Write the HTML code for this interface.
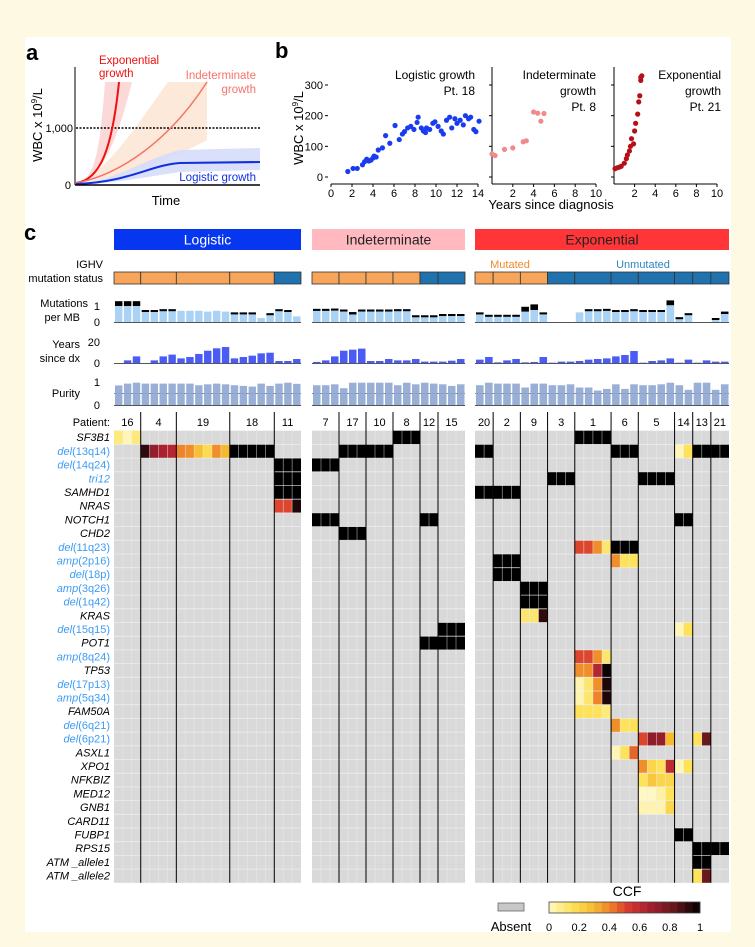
<!DOCTYPE html>
<html><head><meta charset="utf-8">
<style>
html,body{margin:0;padding:0;background:#fdf9e3;}
svg{display:block;font-family:"Liberation Sans",sans-serif;}
</style></head>
<body>
<svg id="fig" width="755" height="947" viewBox="0 0 755 947" xmlns="http://www.w3.org/2000/svg">
<rect x="25" y="37" width="706" height="895" fill="#ffffff"/>
<g>
<text x="26" y="60" font-size="22" font-weight="bold">a</text>
<path d="M76,184 C95,180 100,150 105,82 L132,82 C115,150 100,178 76,184Z" fill="#fbd0d0" opacity="0.8"/>
<path d="M76,184 C110,170 140,120 168,82 L207,82 L207,140 C170,160 120,178 76,184Z" fill="#fbe3d0" opacity="0.8"/>
<path d="M76,184 C120,180 140,160 180,150 L260,148 L260,170 L180,172 C140,178 110,184 76,184Z" fill="#d6dcfa" opacity="0.9"/>
<line x1="76" y1="128" x2="260" y2="128" stroke="#000" stroke-width="1.5" stroke-dasharray="2,1.5"/>
<path d="M76,183 C100,180 112,150 119,82" fill="none" stroke="#f01010" stroke-width="2"/>
<path d="M76,183 C120,175 170,140 207,82" fill="none" stroke="#f5736a" stroke-width="1.5"/>
<path d="M76,184 C130,182 150,165 180,163 L260,162" fill="none" stroke="#1030e0" stroke-width="2"/>
<line x1="75" y1="67" x2="75" y2="185" stroke="#000"/>
<line x1="75" y1="185" x2="260" y2="185" stroke="#000" stroke-width="1.5"/>
<text x="71" y="189" font-size="11" text-anchor="end">0</text>
<text x="73" y="132" font-size="11" text-anchor="end">1,000</text>
<text x="166" y="205" font-size="13" text-anchor="middle">Time</text>
<text transform="translate(42,125) rotate(-90)" font-size="13" text-anchor="middle">WBC x 10<tspan font-size="8" dy="-5">9</tspan><tspan dy="5">/L</tspan></text>
<text x="99" y="64" font-size="11.5" fill="#f01010">Exponential</text>
<text x="99" y="77" font-size="11.5" fill="#f01010">growth</text>
<text x="256" y="79" font-size="11.5" fill="#f5736a" text-anchor="end">Indeterminate</text>
<text x="256" y="93" font-size="11.5" fill="#f5736a" text-anchor="end">growth</text>
<text x="256" y="181" font-size="11.5" fill="#1030e0" text-anchor="end">Logistic growth</text>
</g>
<g id="pb">
<text x="275" y="58" font-size="22" font-weight="bold">b</text>
<text transform="translate(303,128) rotate(-90)" font-size="13" text-anchor="middle">WBC x 10<tspan font-size="8" dy="-5">9</tspan><tspan dy="5">/L</tspan></text>
<text x="551" y="209" font-size="13" text-anchor="middle">Years since diagnosis</text>
<text x="475" y="79" font-size="12" text-anchor="end">Logistic growth</text>
<text x="475" y="95" font-size="12" text-anchor="end">Pt. 18</text>
<text x="596" y="79" font-size="12" text-anchor="end">Indeterminate</text>
<text x="596" y="95" font-size="12" text-anchor="end">growth</text>
<text x="596" y="111" font-size="12" text-anchor="end">Pt. 8</text>
<text x="721" y="79" font-size="12" text-anchor="end">Exponential</text>
<text x="721" y="95" font-size="12" text-anchor="end">growth</text>
<text x="721" y="111" font-size="12" text-anchor="end">Pt. 21</text>
</g>
<g id="pc">
<text x="24" y="240" font-size="22" font-weight="bold">c</text>
<text x="103" y="268" font-size="11" text-anchor="end">IGHV</text>
<text x="103" y="282" font-size="11" text-anchor="end">mutation status</text>
<text x="88" y="307" font-size="11" text-anchor="end">Mutations</text>
<text x="80" y="321" font-size="11" text-anchor="end">per MB</text>
<text x="80" y="348" font-size="11" text-anchor="end">Years</text>
<text x="80" y="362" font-size="11" text-anchor="end">since dx</text>
<text x="80" y="397" font-size="11" text-anchor="end">Purity</text>
<text x="110" y="426" font-size="11" text-anchor="end">Patient:</text>
<text x="510" y="268" font-size="11" fill="#f08a30" text-anchor="middle">Mutated</text>
<text x="643" y="268" font-size="11" fill="#2e86c1" text-anchor="middle">Unmutated</text>
<text x="627" y="896" font-size="14" text-anchor="middle">CCF</text>
<rect x="498" y="903" width="26" height="8" fill="#c8c8c8" stroke="#666" stroke-width="0.8"/>
<text x="511" y="931" font-size="13" text-anchor="middle">Absent</text>
</g>
</svg>
<script>
var logYears = [1.6,2.1,2.5,3.0,3.2,3.4,3.6,3.8,4.0,4.1,4.3,4.5,4.9,5.2,5.6,6.1,6.5,6.8,7.0,7.3,7.6,7.9,8.2,8.3,8.6,8.8,9.0,9.1,9.4,9.7,9.9,10.2,10.5,10.7,11.0,11.3,11.5,11.8,12.0,12.3,12.6,12.8,13.1,13.3,13.6,13.8,14.1];
var logWBC = [18,28,28,40,50,58,52,55,62,68,65,88,95,135,110,168,122,140,148,160,165,155,178,195,160,150,145,160,155,175,180,165,150,140,185,195,160,190,175,185,170,200,190,195,155,148,182];
var indYears = [0.0,0.3,1.2,2.0,3.0,3.3,4.0,4.4,4.7,5.0];
var indWBC = [75,70,90,95,115,118,212,208,182,207];
var expYears = [0.1,0.3,0.5,0.7,1.0,1.2,1.3,1.5,1.6,1.7,1.9,2.0,2.1,2.3,2.4,2.5,2.6,2.6,2.7];
var expWBC = [27,30,32,35,45,60,72,85,100,125,108,150,175,205,245,265,315,325,330];
var bTicksY = [0,100,200,300];
var patients = [["16","4","19","18","11"],["7","17","10","8","12","15"],["20","2","9","3","1","6","5","14","13","21"]];
var patientCells = [[3,4,6,5,3],[3,3,3,3,2,3],[2,3,3,3,4,3,4,2,2,2]];
var groupNames = ["Logistic","Indeterminate","Exponential"];
var ighvMutated = [[1,1,1,1,0],[1,1,1,1,0,0],[1,1,1,0,0,0,0,0,0,0]];
var mutTotal = [1.3,1.3,1.3,.75,.75,.8,.8,.7,.7,.7,.65,.7,.65,.6,.6,.6,.25,.55,.8,.75,.35,
 .82,.82,.84,.78,.62,.78,.78,.78,.78,.8,.8,.42,.42,.42,.5,.5,.5,
 .6,.45,.45,.45,.45,.95,1.1,.6,0,0,0,.6,.8,.8,.82,.75,.75,.8,.75,.75,.75,1.35,.3,.55,0,0,.25,.65];
var mutBlack = [.3,.3,.3,.1,.1,.1,.1,0,0,0,0,0,0,.1,.1,.1,0,.1,.12,.1,0,
 .1,.1,.08,.12,.15,.1,.1,.1,.1,.05,.05,.08,.08,.08,.08,.08,.08,
 .12,.08,.08,.08,.08,.3,.35,.12,0,0,0,0,.08,.08,.1,.12,.12,.1,.08,.08,.08,.3,.05,.1,0,0,.08,.15];
var yearsDx = [0,2.5,6.3,0,2.5,6.3,8,4.4,5.7,8.6,11.7,14,15.2,4.4,5.7,7,9.2,9.8,1.9,1.9,3.8,
 1,2.5,6.3,11.7,12.7,13.7,1.9,1.9,3.8,2.5,2.5,3.8,1.3,1.3,1.3,2.2,3.8,
 3.2,5.7,.6,2.5,3.8,.6,1,5.7,.3,1.3,1.3,1.9,3.2,3.8,4.4,6.3,7.6,11.4,.3,1.9,2.5,4.4,.3,3.2,.3,2.5,1.3,1.3];
var purity = [.85,.93,.97,.93,.93,.93,.93,.93,.93,.86,.9,.93,.9,.86,.83,.8,.93,.83,.93,.97,.92,
 .86,.86,.9,.73,.97,.97,.97,.97,.97,.86,.97,.9,.97,.93,.9,.83,.9,
 .86,.97,.93,.93,.93,.76,.93,.93,.86,.86,.9,.76,.76,.63,.7,.9,.7,.9,.86,.86,.9,.97,.86,.66,.97,.97,.66,.9];
var genes = ["SF3B1","del(13q14)","del(14q24)","tri12","SAMHD1","NRAS","NOTCH1","CHD2","del(11q23)","amp(2p16)","del(18p)","amp(3q26)","del(1q42)","KRAS","del(15q15)","POT1","amp(8q24)","TP53","del(17p13)","amp(5q34)","FAM50A","del(6q21)","del(6p21)","ASXL1","XPO1","NFKBIZ","MED12","GNB1","CARD11","FUBP1","RPS15","ATM _allele1","ATM _allele2"];
var events = [
 [0,0,[.1,.02,.1]],[0,30,[1,1,1]],[0,49,[1,1,1,1]],
 [1,3,[.92,.7,.65,.62]],[1,7,[.4,.38,.28,.18,.38,.3]],[1,13,[1,1,1,1,1]],[1,24,[1,1,1,1,1,1]],[1,38,[1,1]],[1,53,[1,1,1]],[1,60,[.02,.15]],[1,62,[1,1,1,1]],
 [2,18,[1,1,1]],[2,21,[1,1,1]],
 [3,18,[1,1,1]],[3,46,[1,1,1]],[3,56,[1,1,1,1]],
 [4,18,[1,1,1]],[4,38,[1,1,1,1,1]],
 [5,18,[.5,.5,.95]],
 [6,21,[1,1,1]],[6,33,[1,1]],[6,60,[1,1]],
 [7,24,[1,1,1]],
 [8,49,[.5,.5,.38,.12]],[8,53,[1,1,1]],
 [9,40,[1,1,1]],[9,53,[.38,.15,.15]],
 [10,40,[1,1,1]],
 [11,43,[1,1,1]],[12,43,[1,1,1]],
 [13,43,[.12,.12,.92]],
 [14,35,[1,1,1]],[14,60,[.02,.15]],
 [15,33,[1,1,1,1,1]],
 [16,49,[.5,.5,.38,.12]],
 [17,49,[.38,.38,.62,.98]],
 [18,49,[.03,.12,.38,.95]],
 [19,49,[.03,.12,.4,.95]],
 [20,49,[.15,.15,.15,.1]],
 [21,53,[.38,.15,.15]],
 [22,56,[.5,.72,.7,.3]],[22,62,[.15,.82]],
 [23,53,[.02,.15,.45]],
 [24,56,[.38,.2,.15,.6]],[24,60,[.02,.15]],
 [25,56,[.15,.25,.2,.2]],
 [26,56,[0,0,.05,.15]],
 [27,56,[.03,.03,.03,.2]],
 [29,60,[1,1]],
 [30,62,[1,1,1,1]],
 [31,62,[1,1]],
 [32,62,[.15,.82]]
];
var ccfTicks = [0,0.2,0.4,0.6,0.8,1];

var NS="http://www.w3.org/2000/svg";
function mk(tag, attrs, parent){var e=document.createElementNS(NS,tag);for(var k in attrs)e.setAttribute(k,attrs[k]);parent.appendChild(e);return e;}
var pb=document.getElementById('pb'), pc=document.getElementById('pc');

var bOrigins=[331,492,614], bPx=[10.5,10.4,10.3], bMax=[14,10,10];
function bx(s,yr){return bOrigins[s]+yr*bPx[s];}
function by(v){return 177-v*(92/300);}
var bSeries=[[logYears,logWBC,"#1a3cf0"],[indYears,indWBC,"#f28a8a"],[expYears,expWBC,"#b51018"]];
for(var s=0;s<3;s++){
  var ax=mk('line',{x1:bx(s,0),y1:184,x2:bx(s,bMax[s]),y2:184,stroke:'#000'},pb);
  
  
  var ay=mk('line',{x1:bx(s,0)-(s==0?3:0),y1:(s==0?85:67),x2:bx(s,0)-(s==0?3:0),y2:(s==0?177:184),stroke:(s==0?'none':'#000')},pb);
  
  
  for(var t=(s==0?0:2);t<=bMax[s];t+=2){
    var tl=mk('text',{x:bx(s,t),y:197,'font-size':11,'text-anchor':'middle'},pb);tl.textContent=t;
    
    
    var tk=mk('line',{x1:bx(s,t),y1:184,x2:bx(s,t),y2:187,stroke:'#000'},pb);
    
    
  }
  for(var i=0;i<bTicksY.length;i++){
    var yt=mk('line',{x1:bx(s,0)-(s==0?6:3),y1:by(bTicksY[i]),x2:bx(s,0)-(s==0?3:0),y2:by(bTicksY[i]),stroke:'#000'},pb);
    
    
    if(s==0){var yl=mk('text',{x:bx(0,0)-8,y:by(bTicksY[i])+4,'font-size':11,'text-anchor':'end'},pb);yl.textContent=bTicksY[i];
      
      }
  }
  var xs=bSeries[s][0], vs=bSeries[s][1];
  for(var j=0;j<xs.length;j++){
    var c=mk('circle',{cx:bx(s,xs[j]),cy:by(vs[j]),r:2.6,fill:bSeries[s][2]},pb);
    
    
  }
}

var blockX=[[114,301],[312,465],[475,729]];
var colX=[], colW=[], colBlock=[];
for(var b=0;b<3;b++){
  var n=patientCells[b].reduce(function(a,c){return a+c;},0);
  var w=(blockX[b][1]-blockX[b][0])/n;
  for(var i=0;i<n;i++){colX.push(blockX[b][0]+i*w);colW.push(w);colBlock.push(b);}
}
var gColors=["#0636f0","#ffb9bf","#ff3538"], gText=["#ffffff","#222","#222"];
var rowTop=430.7, rowH=13.7;
function cy(r){return rowTop+r*rowH;}
var stops=[[0,[255,248,196]],[0.15,[253,226,90]],[0.3,[246,186,48]],[0.42,[236,120,40]],[0.52,[216,58,48]],[0.66,[165,32,48]],[0.82,[105,24,30]],[1,[0,0,0]]];
function ccfColor(v){
  for(var i=1;i<stops.length;i++){if(v<=stops[i][0]){var a=stops[i-1],b=stops[i],t=(v-a[0])/(b[0]-a[0]);
    return 'rgb('+a[1].map(function(x,k){return Math.round(x+(b[1][k]-x)*t);}).join(',')+')';}}
  return '#000';
}
var col=0;
for(var b=0;b<3;b++){
  var gr=mk('rect',{x:blockX[b][0],y:229,width:blockX[b][1]-blockX[b][0],height:21,fill:gColors[b]},pc);
  
  
  var gt=mk('text',{x:(blockX[b][0]+blockX[b][1])/2,y:244.5,'font-size':14,'text-anchor':'middle',fill:gText[b]},pc);gt.textContent=groupNames[b];
  
  
  var hb=mk('rect',{x:blockX[b][0],y:rowTop,width:blockX[b][1]-blockX[b][0],height:rowH*genes.length,fill:'#d9d9d9'},pc);
  
  
  var yA=[[306,322],[342,363],[382,405]];
  for(var k=0;k<3;k++){
    var bl=mk('line',{x1:blockX[b][0],y1:yA[k][1]+0.5,x2:blockX[b][1],y2:yA[k][1]+0.5,stroke:'#555','stroke-width':1},pc);
    
    
  }
  var pl=mk('line',{x1:blockX[b][0],y1:393.5,x2:blockX[b][1],y2:393.5,stroke:'#888','stroke-width':1},pc);
  
  
  for(var p=0;p<patients[b].length;p++){
    var n=patientCells[b][p], x0=colX[col], x1=colX[col+n-1]+colW[col+n-1];
    var ig=mk('rect',{x:x0,y:272,width:x1-x0,height:12,fill:ighvMutated[b][p]?'#f6a55a':'#1f72ad',stroke:'#333','stroke-width':0.8},pc);
    
    
    var pt=mk('text',{x:(x0+x1)/2,y:426,'font-size':11,'text-anchor':'middle'},pc);pt.textContent=patients[b][p];
    
    
    col+=n;
  }
}
for(var c=0;c<colX.length;c++){
  var x=colX[c]+1, w=colW[c]-1.5;
  if(mutTotal[c]>0){
    var lb=mk('rect',{x:x,y:322-mutTotal[c]*16,width:w,height:mutTotal[c]*16,fill:'#a9d2f5'},pc);
    
    
    var cap=Math.max(mutBlack[c]*16,mutBlack[c]>0?2:0);
    if(cap>0){var bk=mk('rect',{x:x,y:322-mutTotal[c]*16,width:w,height:cap,fill:'#000'},pc);
      
      }
  }
  var yb=mk('rect',{x:x,y:363-yearsDx[c]*1.05,width:w,height:yearsDx[c]*1.05,fill:'#4a5cf5'},pc);
  
  
  var pbar=mk('rect',{x:x,y:405-purity[c]*23,width:w,height:purity[c]*23,fill:'#8ea6d2',opacity:0.9},pc);
  
  
}
for(var e=0;e<events.length;e++){
  var ev=events[e];
  for(var i=0;i<ev[2].length;i++){
    var c=ev[1]+i;
    var r=mk('rect',{x:colX[c],y:cy(ev[0]),width:colW[c],height:rowH,fill:ccfColor(ev[2][i])},pc);
    
    
  }
}
for(var c=0;c<colX.length;c++){
  if(c>0&&colBlock[c]==colBlock[c-1]){
    var gl=mk('line',{x1:colX[c],y1:rowTop,x2:colX[c],y2:cy(genes.length),stroke:'#eeeeee','stroke-width':0.6,opacity:0.7},pc);
    
    
  }
}
for(var g=1;g<genes.length;g++){
  for(var b=0;b<3;b++){
    var hl=mk('line',{x1:blockX[b][0],y1:cy(g),x2:blockX[b][1],y2:cy(g),stroke:'#f2f2f2','stroke-width':0.8,opacity:0.8},pc);
    
    
  }
}
for(var b=0,col2=0;b<3;b++){for(var p=0;p<patients[b].length;p++){if(p>0){var sx=colX[col2];
  var s2=mk('line',{x1:sx,y1:412,x2:sx,y2:cy(genes.length),stroke:'#000','stroke-width':1},pc);
  
  }
  col2+=patientCells[b][p];}}
for(var g=0;g<genes.length;g++){
  var nm=genes[g], t=mk('text',{x:110,y:cy(g)+10.5,'font-size':11,'text-anchor':'end','font-style':'italic'},pc);
  var m=nm.match(/^(del|amp|tri)(.*)$/);
  if(m){t.setAttribute('fill','#3d9cf5');var a=document.createElementNS(NS,'tspan');a.textContent=m[1];t.appendChild(a);
    var b2=document.createElementNS(NS,'tspan');b2.setAttribute('font-style',m[1]=='tri'?'italic':'normal');b2.textContent=m[2];t.appendChild(b2);}
  else t.textContent=nm;
  
  
}
var tl=[["1",310],["0",326],["20",346],["0",367],["1",386],["0",409]];
for(var i=0;i<tl.length;i++){var tt=mk('text',{x:100,y:tl[i][1],'font-size':11,'text-anchor':'end'},pc);tt.textContent=tl[i][0];
  
  }
var lx0=549,lx1=700,nb=20;
for(var i=0;i<nb;i++){
  var lr=mk('rect',{x:lx0+i*(lx1-lx0)/nb,y:902,width:(lx1-lx0)/nb+0.3,height:11,fill:ccfColor((i+0.5)/nb)},pc);
  
  
}
var lb2=mk('rect',{x:lx0,y:902,width:lx1-lx0,height:11,fill:'none',stroke:'#444','stroke-width':0.8},pc);


for(var i=0;i<ccfTicks.length;i++){
  var xx=lx0+ccfTicks[i]*(lx1-lx0);
  var lt=mk('text',{x:xx,y:931,'font-size':11,'text-anchor':'middle'},pc);lt.textContent=ccfTicks[i];
  
  
}
</script>
</body></html>
